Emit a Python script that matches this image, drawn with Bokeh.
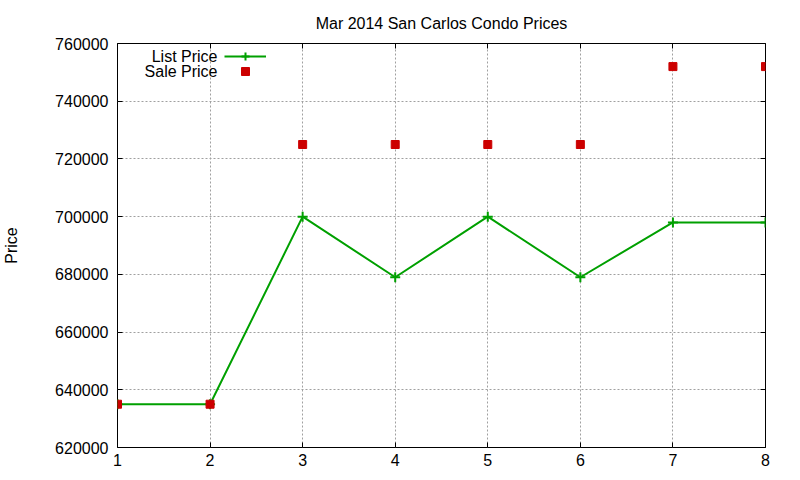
import numpy as np
from bokeh.plotting import figure
from bokeh.models import (Range1d, LinearAxis, FixedTicker, Legend, LegendItem,
                          Label, ColumnDataSource, BasicTickFormatter)
from bokeh.embed import file_html
from bokeh.resources import INLINE

# datos
days = [1, 2, 3, 4, 5, 6, 7, 8]
list_price = [635000, 635000, 700000, 679000, 700000, 679000, 698000, 698000]
sale_price = [635000, 635000, 725000, 725000, 725000, 725000, 752000, 752000]
y_ticks = [620000, 640000, 660000, 680000, 700000, 720000, 740000, 760000]
titulo = "Mar 2014 San Carlos Condo Prices"

GREEN = "#00a000"
RED = "#cc0000"
FONT = "Liberation Sans"
FS = "16px"
FW, FH = 648, 404

src = ColumnDataSource(dict(x=days, lp=list_price, sp=sale_price))

p = figure(frame_width=FW, frame_height=FH, output_backend="svg",
           toolbar_location=None, x_range=Range1d(1, 8),
           y_range=Range1d(620000, 760000),
           min_border_left=110, min_border_top=43,
           min_border_right=20, min_border_bottom=24,
           title=titulo)

p.title.align = "center"
p.title.text_font = FONT
p.title.text_font_size = FS
p.title.text_font_style = "normal"
p.title.text_color = "black"
p.title.standoff = 24

p.outline_line_color = "black"
p.outline_line_alpha = 1
p.outline_line_width = 1

p.xaxis.ticker = FixedTicker(ticks=days)
p.yaxis.ticker = FixedTicker(ticks=y_ticks)
p.yaxis.formatter = BasicTickFormatter(use_scientific=False)

for ax in [p.xaxis[0], p.yaxis[0]]:
    ax.axis_line_color = None
    ax.major_tick_in = 5
    ax.major_tick_out = 0
    ax.minor_tick_line_color = None
    ax.major_label_text_font = FONT
    ax.major_label_text_font_size = FS
    ax.major_label_text_color = "black"
    ax.major_tick_line_color = "black"

p.xaxis.major_label_standoff = 6
p.yaxis.major_label_standoff = 9
p.yaxis.axis_label = "Price"
p.yaxis.axis_label_text_font = FONT
p.yaxis.axis_label_text_font_size = FS
p.yaxis.axis_label_text_font_style = "normal"
p.yaxis.axis_label_text_color = "black"
p.yaxis.axis_label_standoff = 32

# ejes espejo (ticks arriba y a la derecha)
top = LinearAxis(ticker=FixedTicker(ticks=days))
right = LinearAxis(ticker=FixedTicker(ticks=y_ticks))
for ax in [top, right]:
    ax.axis_line_color = None
    ax.major_tick_in = 5
    ax.major_tick_out = 0
    ax.minor_tick_line_color = None
    ax.major_label_text_font_size = "0px"
    ax.major_label_text_color = None
    ax.major_tick_line_color = "black"
p.add_layout(top, "above")
p.add_layout(right, "right")

p.grid.grid_line_color = "#a0a0a0"
p.grid.grid_line_dash = "2 2"
p.grid.grid_line_width = 1

l1 = p.line("x", "lp", source=src, color=GREEN, line_width=2)
l2 = p.scatter("x", "lp", source=src, marker="cross", size=10,
               line_color=GREEN, line_width=2)
s1 = p.scatter("x", "sp", source=src, marker="square", size=8,
               fill_color=RED, line_color=RED)

# leyenda estilo gnuplot: texto a la izquierda, muestra a la derecha
for rends, ly in [([l1, l2], 381), ([s1], 366)]:
    leg = Legend(items=[LegendItem(label=" ", renderers=rends)],
                 location=(107, ly), glyph_width=42, glyph_height=20,
                 label_height=15, label_width=0, label_standoff=0,
                 label_text_font_size="1px", spacing=0, padding=0, margin=0,
                 border_line_alpha=0, background_fill_alpha=0)
    p.add_layout(leg)

for txt, yy in [("List Price", 391), ("Sale Price", 376)]:
    p.add_layout(Label(x=100, y=yy, x_units="screen", y_units="screen",
                       text=txt, text_align="right", text_baseline="middle",
                       text_font=FONT, text_font_size=FS, text_color="black"))

open("out.html", "w").write(file_html(p, INLINE))
